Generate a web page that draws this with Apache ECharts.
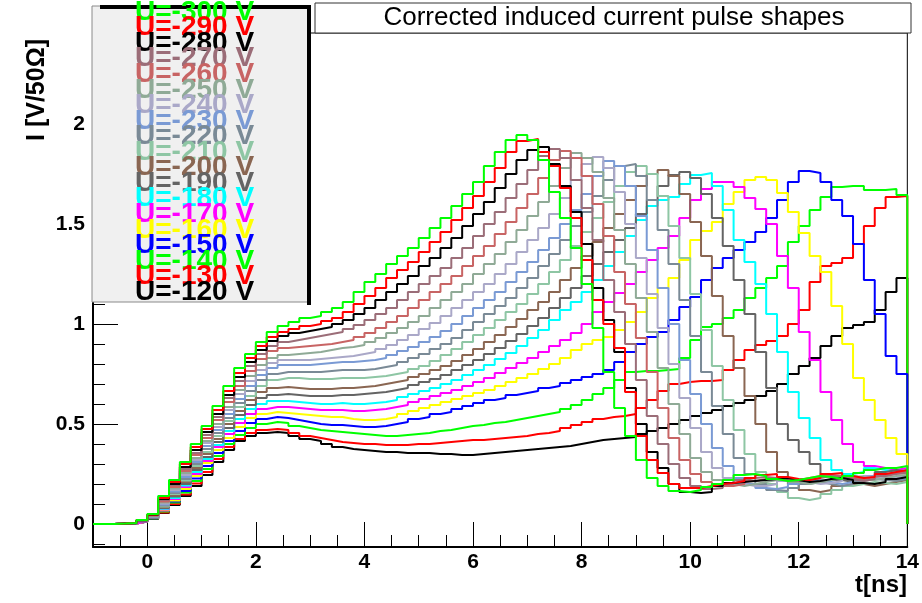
<!DOCTYPE html>
<html>
<head>
<meta charset="utf-8">
<title>Corrected induced current pulse shapes</title>
<script src="https://cdn.jsdelivr.net/npm/echarts@6/dist/echarts.min.js"></script>
<style>
  html, body { margin: 0; padding: 0; background: #fff; }
  #chart { width: 922px; height: 603px; }
</style>
</head>
<body>
<div id="chart"></div>
<script>
// histogram bins: 0.2 ns wide, first bin starts at t = -1 ns
const tStart = -1
const binWidth = 0.2
const tEnd = 14

const voltages = [-300, -290, -280, -270, -260, -250, -240, -230, -220, -210,
                  -200, -190, -180, -170, -160, -150, -140, -130, -120]

const u300 = [0,0,0.002, .005,.02,.05,.14,.22,.31,.40, .49,.59,.69,.78,.85,.91,.96,.99, 1.01,1.03,1.04,1.06, 1.08,
  1.11,1.16,1.21,1.25,1.30,1.34,1.38,1.43,1.48,1.53, 1.59,1.65,1.71,1.79,1.86,1.92,1.945,1.92,1.82,1.66,
  1.53,1.38,1.2,.98,.76,.58,.44,.32,.23,.19, .165,.16,.17,.185,.2,.22,.245,.25,.24,.225,
  .215,.22,.23,.24,.235,.225,.24,.255,.27,.28, .28,.29]
const u290 = [0,0,0.002, .005,.02,.048,.13,.21,.30,.385, .475,.57,.665,.755,.83,.89,.935,.96, .975,.99,1.0,1.015, 1.03,
  1.06,1.1,1.14,1.18,1.23,1.27,1.31,1.36,1.41,1.46, 1.52,1.58,1.64,1.71,1.78,1.86,1.915,1.925,1.86,1.79,
  1.68,1.53,1.32,1.12,1.0,.88,.66,.44,.32,.255, .2,.18,.18,.19,.2,.205,.215,.23,.245,.25,
  .235,.225,.22,.23,.25,.255,.24,.23,.235,.25, .26,.27]
const u280 = [0,0,0.002, .004,.019,.046,.125,.20,.285,.37, .46,.55,.645,.735,.81,.87,.915,.94, .955,.965,.975,.985, 1.0,
  1.02,1.05,1.08,1.12,1.16,1.2,1.24,1.29,1.33,1.38, 1.43,1.49,1.55,1.61,1.68,1.75,1.82,1.87,1.885,1.8,
  1.69,1.56,1.4,1.18,1.02,.86,.68,.5,.36,.28, .2,.16,.155,.16,.19,.205,.21,.215,.22,.225,
  .23,.22,.21,.215,.225,.23,.22,.205,.2,.21, .225,.235]
const u270 = [0,0,0.002, .004,.018,.044,.12,.195,.275,.355, .445,.535,.63,.715,.79,.85,.89,.91, .92,.93,.94,.95, .96,
  .975,.995,1.02,1.05,1.08,1.12,1.16,1.2,1.24,1.28, 1.33,1.38,1.44,1.5,1.56,1.63,1.7,1.77,1.84,1.875,
  1.83,1.72,1.58,1.42,1.22,1.06,.9,.72,.54,.4, .3,.23,.19,.175,.18,.2,.22,.23,.235,.23,
  .22,.215,.22,.23,.24,.235,.225,.215,.225,.24, .25,.255]
const u260 = [0,0,0.002, .004,.017,.042,.113,.185,.265,.345, .43,.52,.61,.69,.765,.825,.865,.88, .885,.89,.895,.90, .91,
  .92,.935,.955,.98,1.01,1.04,1.08,1.12,1.16,1.2, 1.24,1.29,1.34,1.39,1.45,1.51,1.58,1.65,1.73,1.82,
  1.865,1.83,1.74,1.6,1.44,1.26,1.1,.93,.76,.58, .43,.32,.25,.21,.19,.19,.2,.215,.225,.23,
  .225,.22,.23,.24,.245,.24,.23,.225,.235,.245, .255,.26]
const u250 = [0,0,0.002, .004,.017,.04,.107,.178,.255,.33, .415,.50,.585,.67,.74,.795,.83,.845, .85,.855,.86,.87, .88,
  .885,.895,.91,.93,.955,.98,1.01,1.04,1.08,1.12, 1.16,1.2,1.25,1.3,1.35,1.41,1.47,1.54,1.61,1.69,
  1.78,1.855,1.83,1.76,1.63,1.47,1.3,1.13,.96,.78, .6,.45,.33,.26,.22,.2,.19,.2,.21,.22,
  .225,.21,.2,.21,.22,.23,.24,.235,.22,.23, .24,.245]
const u240 = [0,0,0.002, .004,.016,.039,.102,.17,.245,.32, .405,.485,.57,.65,.715,.77,.805,.82, .82,.82,.825,.83, .835,
  .84,.85,.86,.875,.895,.92,.945,.975,1.005,1.04, 1.08,1.12,1.16,1.2,1.25,1.3,1.36,1.42,1.48,1.55,
  1.63,1.72,1.8,1.835,1.78,1.66,1.5,1.33,1.15,.98, .8,.63,.48,.36,.28,.23,.2,.19,.19,.2,
  .215,.22,.21,.2,.205,.215,.23,.24,.235,.225, .23,.24]
const u230 = [0,0,0.002, .004,.016,.037,.097,.163,.235,.31, .39,.47,.55,.625,.69,.745,.78,.795, .795,.795,.80,.805, .81,
  .81,.815,.82,.83,.845,.865,.885,.91,.935,.965, 1.0,1.04,1.08,1.12,1.16,1.21,1.26,1.31,1.37,1.43,
  1.5,1.57,1.65,1.74,1.815,1.79,1.69,1.54,1.37,1.18, 1.0,.82,.65,.5,.38,.29,.23,.2,.18,.175,
  .185,.2,.215,.22,.21,.2,.21,.225,.24,.235, .225,.23]
const u220 = [0,0,0.002, .004,.015,.036,.092,.155,.225,.30, .375,.455,.53,.605,.665,.72,.75,.76, .76,.76,.76,.765, .77,
  .77,.77,.775,.785,.795,.81,.83,.85,.875,.9, .93,.97,1.01,1.05,1.09,1.13,1.18,1.23,1.29,1.35,
  1.42,1.49,1.56,1.64,1.72,1.79,1.80,1.74,1.62,1.47, 1.3,1.12,.94,.76,.59,.45,.33,.25,.2,.17,
  .165,.18,.2,.21,.2,.19,.2,.215,.225,.22, .215,.225]
const u210 = [0,0,0.002, .003,.015,.035,.088,.15,.218,.29, .36,.44,.515,.585,.64,.69,.72,.73, .73,.725,.725,.725, .73,
  .73,.73,.735,.74,.75,.76,.775,.79,.815,.845, .875,.91,.945,.98,1.02,1.06,1.1,1.15,1.2,1.26,
  1.32,1.39,1.46,1.53,1.61,1.69,1.76,1.79,1.75,1.64, 1.49,1.33,1.15,.97,.79,.62,.47,.35,.26,.2,
  .16,.13,.12,.13,.15,.17,.19,.2,.21,.205, .2,.21]
const u200 = [0,0,0.002, .003,.014,.034,.084,.143,.21,.28, .35,.425,.50,.565,.62,.66,.68,.685, .68,.675,.675,.675, .68,
  .68,.685,.69,.70,.71,.72,.735,.75,.77,.79, .815,.845,.875,.91,.945,.985,1.025,1.07,1.11,1.16,
  1.22,1.28,1.34,1.41,1.48,1.55,1.62,1.69,1.75,1.77, 1.74,1.65,1.51,1.34,1.14,.94,.78,.64,.5,.36,
  .26,.2,.17,.16,.17,.19,.2,.2,.19,.2, .21,.22]
const u190 = [0,0,0.002, .003,.014,.033,.08,.137,.20,.27, .335,.41,.48,.545,.595,.63,.645,.65, .645,.64,.64,.64, .645,
  .645,.65,.655,.66,.67,.68,.695,.71,.725,.745, .77,.795,.82,.85,.88,.915,.95,.99,1.03,1.08,
  1.13,1.18,1.24,1.3,1.36,1.42,1.48,1.55,1.62,1.69, 1.745,1.76,1.73,1.65,1.53,1.39,1.22,1.05,.86,.68,
  .5,.42,.36,.3,.25,.22,.21,.22,.24,.26, .27,.26]
const u180 = [0,0,0.002, .003,.014,.032,.076,.13,.192,.26, .325,.395,.465,.525,.575,.60,.615,.615, .61,.605,.60,.60, .605,
  .60,.60,.605,.61,.62,.635,.65,.665,.68,.70, .72,.745,.77,.795,.825,.855,.89,.93,.97,1.02,
  1.07,1.11,1.16,1.22,1.29,1.36,1.44,1.52,1.59,1.62, 1.635,1.70,1.745,1.755,1.69,1.57,1.42,1.31,1.2,1.05,
  .86,.66,.53,.43,.32,.27,.25,.26,.28,.27, .26,.27]
const u170 = [0,0,0.002, .003,.013,.031,.072,.125,.185,.25, .315,.385,.45,.505,.55,.575,.585,.585, .58,.575,.57,.57, .57,
  .565,.565,.57,.575,.585,.595,.61,.625,.64,.655, .67,.69,.71,.73,.755,.78,.805,.83,.86,.89,
  .92,.955,1.0,1.06,1.11,1.155,1.2,1.26,1.32,1.38, 1.44,1.53,1.62,1.675,1.71,1.71,1.685,1.63,1.575,1.5,
  1.34,1.18,.96,.82,.66,.52,.4,.31,.29,.28, .27,.28]
const u160 = [0,0,0.002, .003,.013,.03,.068,.118,.175,.24, .305,.37,.43,.485,.53,.55,.56,.555, .55,.545,.54,.535, .535,
  .525,.52,.52,.525,.535,.55,.565,.58,.595,.61, .625,.64,.655,.67,.69,.71,.73,.75,.775,.80,
  .83,.87,.90,.92,.935,.97,1.01,1.06,1.13,1.18, 1.23,1.32,1.42,1.465,1.51,1.60,1.66,1.72,1.735,1.72,
  1.655,1.56,1.455,1.34,1.26,1.09,.90,.73,.62,.52, .43,.35]
const u150 = [0,0,0.002, .003,.013,.029,.065,.112,.165,.228, .29,.355,.415,.465,.505,.525,.535,.53, .52,.51,.50,.495, .495,
  .49,.485,.485,.49,.50,.51,.525,.535,.55,.56, .575,.59,.605,.62,.63,.645,.655,.665,.68,.69,
  .705,.72,.735,.75,.77,.81,.86,.90,.935,.96, 1.02,1.085,1.135,1.22,1.28,1.33,1.37,1.41,1.46,1.53,
  1.62,1.71,1.765,1.755,1.71,1.62,1.54,1.40,1.22,1.05, .84,.75]
const u140 = [0,0,0.002, .003,.012,.028,.062,.107,.157,.215, .275,.34,.40,.445,.48,.50,.51,.505, .49,.48,.47,.465, .46,
  .455,.45,.445,.44,.44,.445,.45,.455,.465,.47, .48,.49,.495,.505,.51,.52,.53,.54,.55,.56,
  .575,.595,.62,.65,.68,.72,.76,.765,.765,.77, .775,.83,.92,.985,1.0,1.03,1.07,1.13,1.18,1.23,
  1.29,1.41,1.49,1.57,1.635,1.685,1.69,1.69,1.67,1.67, 1.675,1.645]
const u130 = [0,0,0.002, .003,.012,.027,.058,.10,.148,.203, .26,.325,.385,.425,.455,.47,.475,.47, .455,.44,.43,.42, .41,
  .405,.40,.40,.395,.395,.395,.40,.40,.405,.41, .415,.42,.42,.425,.43,.435,.44,.45,.455,.465,
  .48,.495,.51,.525,.535,.54,.55,.58,.62,.665, .70,.71,.715,.715,.72,.77,.82,.87,.895,.915,
  .94,1.0,1.07,1.21,1.29,1.305,1.33,1.40,1.49,1.58, 1.635,1.64]
const u120 = [0,0,0.002, .003,.012,.025,.055,.095,.14,.19, .245,.31,.37,.415,.44,.455,.46,.455, .44,.425,.415,.40, .385,
  .375,.37,.365,.36,.36,.355,.355,.355,.35,.35, .345,.345,.35,.355,.36,.365,.37,.375,.38,.385,
  .39,.40,.41,.42,.425,.43,.435,.45,.465,.48, .50,.52,.54,.555,.57,.59,.605,.62,.64,.665,
  .70,.75,.79,.83,.89,.94,.98,.995,1.01,1.07, 1.16,1.23]

const curves = [u300, u290, u280, u270, u260, u250, u240, u230, u220, u210,
                u200, u190, u180, u170, u160, u150, u140, u130, u120]

const colors = ['#00ff00', '#ff0000', '#000000', '#9b6d78', '#c86464', '#8faa96', '#aaa8c8', '#7a9ad4', '#7a8a96', '#8ec6a4',
                '#8a6652', '#646464', '#00ffff', '#ff00ff', '#ffff00', '#0000ff', '#00ff00', '#ff0000', '#000000']

const xTickLabels = [0, 2, 4, 6, 8, 10, 12, 14]
const xMinorTicks = [-1, -0.5, 0, 0.5, 1, 1.5, 2, 2.5, 3, 3.5, 4, 4.5, 5, 5.5, 6, 6.5, 7, 7.5,
                     8, 8.5, 9, 9.5, 10, 10.5, 11, 11.5, 12, 12.5, 13, 13.5, 14]
const yTickLabels = [0, 0.5, 1, 1.5, 2]
const yMinorTicks = [-0.1, 0, 0.1, 0.2, 0.3, 0.4, 0.5, 0.6, 0.7, 0.8, 0.9, 1, 1.1, 1.2,
                     1.3, 1.4, 1.5, 1.6, 1.7, 1.8, 1.9, 2, 2.1, 2.2, 2.3, 2.4]

const font = '"Liberation Sans", Arial, Helvetica, sans-serif'

// bins -> step outline, dropping to zero at the right edge like ROOT does
function histPoints(vals) {
    const pts = vals.map((v, i) => [+(tStart + i * binWidth).toFixed(2), v])
    pts.push([tEnd, vals[vals.length - 1]])
    pts.push([tEnd, 0])
    return pts
}

// draw -120 first so -300 ends up on top
const series = []
for (let k = curves.length - 1; k >= 0; k--) {
    series.push({
        type: 'line',
        name: 'U=' + voltages[k] + ' V',
        step: 'end',
        symbol: 'none',
        data: histPoints(curves[k]),
        lineStyle: { color: colors[k], width: 2 },
        itemStyle: { color: colors[k] },
        emphasis: { disabled: true },
        z: 2
    })
}

const legendTexts = voltages.map((v, k) => ({
    type: 'text',
    x: 135,
    y: 12 + k * 15.56,
    z: 102,
    style: {
        text: 'U=' + v + ' V',
        fill: colors[k],
        font: 'bold 28px ' + font,
        align: 'left',
        verticalAlign: 'middle'
    }
}))

const chart = echarts.init(document.getElementById('chart'))

const option = {
    animation: false,
    backgroundColor: '#fff',
    grid: {
        left: 93, right: 10, top: 33, bottom: 56,
        show: true, borderColor: '#000', borderWidth: 1
    },
    xAxis: [{
        type: 'value', min: tStart, max: tEnd,
        axisLine: { onZero: false, lineStyle: { color: '#000', width: 2 } },
        axisTick: { inside: true, length: 12, customValues: xMinorTicks, lineStyle: { color: '#000' } },
        axisLabel: { customValues: xTickLabels, color: '#000', fontFamily: font, fontWeight: 'bold', fontSize: 21, margin: 5 },
        splitLine: { show: false }
    }, {
        // long ticks at the labelled values
        type: 'value', min: tStart, max: tEnd, position: 'bottom', offset: 0,
        axisLine: { show: false, onZero: false },
        axisTick: { inside: true, length: 25, customValues: xTickLabels, lineStyle: { color: '#000' } },
        axisLabel: { show: false },
        splitLine: { show: false }
    }],
    yAxis: [{
        type: 'value', min: -0.115, max: 2.455,
        axisLine: { onZero: false, lineStyle: { color: '#000', width: 2 } },
        axisTick: { inside: true, length: 12, customValues: yMinorTicks, lineStyle: { color: '#000' } },
        axisLabel: { customValues: yTickLabels, color: '#000', fontFamily: font, fontWeight: 'bold', fontSize: 21, margin: 8 },
        splitLine: { show: false }
    }, {
        type: 'value', min: -0.115, max: 2.455, position: 'left', offset: 0,
        axisLine: { show: false, onZero: false },
        axisTick: { inside: true, length: 25, customValues: yTickLabels, lineStyle: { color: '#000' } },
        axisLabel: { show: false },
        splitLine: { show: false }
    }],
    series: series,
    graphic: [
        // legend box
        { type: 'rect', z: 100, shape: { x: 92, y: 6, width: 216, height: 296 },
          style: { fill: '#f0f0f0', stroke: '#8a8a8a', lineWidth: 1 } },
        { type: 'line', z: 101, shape: { x1: 100, y1: 7, x2: 311, y2: 7 }, style: { stroke: '#000', lineWidth: 4 } },
        { type: 'line', z: 101, shape: { x1: 309, y1: 7, x2: 309, y2: 305 }, style: { stroke: '#000', lineWidth: 4 } },
        ...legendTexts,
        // title box
        { type: 'rect', z: 100, shape: { x: 315, y: 3, width: 596, height: 30 },
          style: { fill: '#fff', stroke: '#333', lineWidth: 1 } },
        { type: 'text', z: 101, x: 614, y: 18,
          style: { text: 'Corrected induced current pulse shapes', fill: '#000', font: '26px ' + font, align: 'center', verticalAlign: 'middle' } },
        // axis titles
        { type: 'text', z: 101, x: 37, y: 141, rotation: Math.PI / 2,
          style: { text: 'I [V/50\u03A9]', fill: '#000', font: 'bold 25px ' + font, align: 'left', verticalAlign: 'middle' } },
        { type: 'text', z: 101, x: 907, y: 585,
          style: { text: 't[ns]', fill: '#000', font: 'bold 24px ' + font, align: 'right', verticalAlign: 'middle' } }
    ]
}

chart.setOption(option)
</script>
</body>
</html>
